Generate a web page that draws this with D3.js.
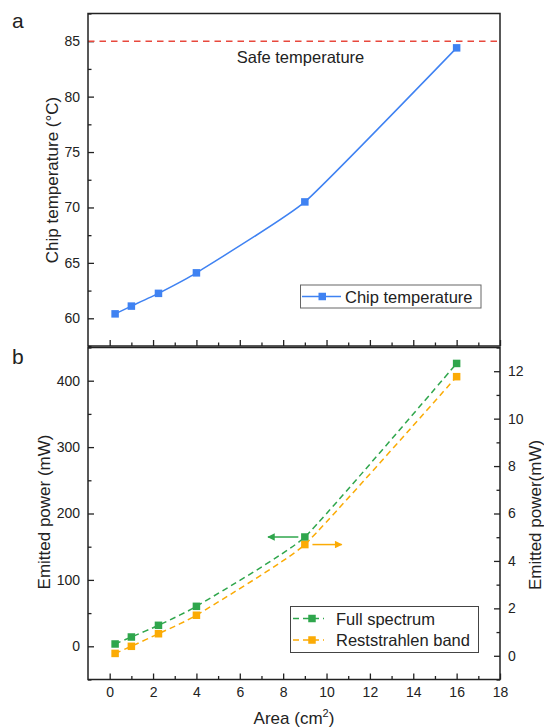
<!DOCTYPE html>
<html>
<head>
<meta charset="utf-8">
<script src="https://cdn.jsdelivr.net/npm/d3@7"></script>
<style>
body { margin: 0; background: #fff; }
svg { display: block; font-family: "Liberation Sans", Arial, sans-serif; }
</style>
</head>
<body>
<script>
// data
var area = [0.25, 1, 2.25, 4, 9, 16];
var chipTemp = [60.4, 61.1, 62.25, 64.1, 70.5, 84.4];
var fullSpectrum = [3.5, 14, 31.6, 60.2, 164.6, 426];
var reststrahlen = [0.1, 0.4, 0.93, 1.71, 4.69, 11.77];
var safeTemp = 85;

var xMajor = [0, 2, 4, 6, 8, 10, 12, 14, 16, 18];
var xMinor = [1, 3, 5, 7, 9, 11, 13, 15, 17];
var tempMajor = [60, 65, 70, 75, 80, 85];
var tempMinor = [57.5, 62.5, 67.5, 72.5, 77.5, 82.5, 87.5];
var powerMajor = [0, 100, 200, 300, 400];
var powerMinor = [-50, 50, 150, 250, 350, 450];
var rightMajor = [0, 2, 4, 6, 8, 10, 12];
var rightMinor = [-1, 1, 3, 5, 7, 9, 11, 13];

// arrows pointing from the 9 cm2 points towards their axis
var arrowFull = { index: 4, to: 7.3, from: 8.7 };
var arrowRest = { index: 4, from: 9.35, to: 10.7 };

var W = 544, H = 728;
var blue = '#3f82f2', green = '#2fa64c', orange = '#fbab05', red = '#e8483d', ink = '#222';
var smooth = d3.curveCardinal.tension(0.6);

var svg = d3.select('body').append('svg')
    .attr('width', W)
    .attr('height', H);

var defs = svg.append('defs');
[['ah-green', green], ['ah-orange', orange]].forEach(function(d) {
    defs.append('marker')
        .attr('id', d[0])
        .attr('viewBox', '0 0 10 10')
        .attr('refX', 9).attr('refY', 5)
        .attr('markerWidth', 6).attr('markerHeight', 5)
        .attr('markerUnits', 'strokeWidth')
        .attr('orient', 'auto')
        .append('path')
        .attr('d', 'M0,0L10,5L0,10z')
        .attr('fill', d[1]);
});

var x = d3.scaleLinear().domain([-1, 18]).range([88, 500]);
var yTemp = d3.scaleLinear().domain([57.5, 87.5]).range([346, 13.5]);
var yPow = d3.scaleLinear().domain([-50, 450]).range([679.5, 347.5]);
var yRight = d3.scaleLinear().domain([-1, 13]).range([679.5, 347.5]);

function styleAxis(g) {
    g.select('.domain').remove();
    g.selectAll('line').attr('stroke', ink).attr('stroke-width', 1.3);
    g.selectAll('text').attr('fill', ink).attr('font-size', 14).attr('font-family', null);
}

function addAxis(axisFn, scale, major, minor, pos, labels) {
    var a = svg.append('g').attr('transform', pos)
        .call(axisFn(scale).tickValues(major).tickSize(-6).tickPadding(8)
            .tickFormat(labels ? d3.format('d') : ''))
        .call(styleAxis);
    svg.append('g').attr('transform', pos)
        .call(axisFn(scale).tickValues(minor).tickSize(-3.5).tickFormat(''))
        .call(styleAxis);
    return a;
}

// ---- panel a ----
addAxis(d3.axisLeft, yTemp, tempMajor, tempMinor, 'translate(88,0)', true);
addAxis(d3.axisBottom, x, xMajor, xMinor, 'translate(0,346)', false);

svg.append('line')
    .attr('x1', x.range()[0]).attr('x2', x.range()[1])
    .attr('y1', yTemp(safeTemp)).attr('y2', yTemp(safeTemp))
    .attr('stroke', red).attr('stroke-width', 1.5)
    .attr('stroke-dasharray', '6.5,5');

svg.append('text')
    .attr('x', 300.5).attr('y', 62.5)
    .attr('text-anchor', 'middle')
    .attr('font-size', 16.5).attr('fill', ink)
    .text('Safe temperature');

var tempLine = d3.line()
    .x(function(d, i) { return x(area[i]); })
    .y(function(d) { return yTemp(d); })
    .curve(smooth);

svg.append('path')
    .datum(chipTemp)
    .attr('d', tempLine)
    .attr('fill', 'none')
    .attr('stroke', blue)
    .attr('stroke-width', 1.5);

svg.selectAll('.m-temp')
    .data(chipTemp)
    .enter().append('rect')
    .attr('class', 'm-temp')
    .attr('x', function(d, i) { return x(area[i]) - 3.75; })
    .attr('y', function(d) { return yTemp(d) - 3.75; })
    .attr('width', 7.5).attr('height', 7.5)
    .attr('fill', blue);

svg.append('rect')
    .attr('x', 88).attr('y', 13.5)
    .attr('width', 412).attr('height', 332.5)
    .attr('fill', 'none').attr('stroke', ink).attr('stroke-width', 1.5);

var legA = svg.append('g');
legA.append('rect')
    .attr('x', 300.5).attr('y', 285).attr('width', 180.5).attr('height', 23)
    .attr('fill', '#fff').attr('stroke', '#666').attr('stroke-width', 1);
legA.append('line')
    .attr('x1', 302).attr('x2', 341).attr('y1', 296.5).attr('y2', 296.5)
    .attr('stroke', blue).attr('stroke-width', 1.5);
legA.append('rect')
    .attr('x', 318.5).attr('y', 292.75).attr('width', 7.5).attr('height', 7.5)
    .attr('fill', blue);
legA.append('text')
    .attr('x', 345).attr('y', 302.5)
    .attr('font-size', 16.5).attr('fill', ink)
    .text('Chip temperature');

svg.append('text')
    .attr('transform', 'translate(58,180) rotate(-90)')
    .attr('text-anchor', 'middle')
    .attr('font-size', 17).attr('fill', ink)
    .text('Chip temperature (\u00b0C)');

svg.append('text')
    .attr('x', 12).attr('y', 28)
    .attr('font-size', 21).attr('fill', ink)
    .text('a');

// ---- panel b ----
addAxis(d3.axisLeft, yPow, powerMajor, powerMinor, 'translate(88,0)', true);
addAxis(d3.axisRight, yRight, rightMajor, rightMinor, 'translate(500,0)', true);
addAxis(d3.axisBottom, x, xMajor, xMinor, 'translate(0,679.5)', true);

var series = [
    { values: fullSpectrum, y: yPow, color: green, name: 'Full spectrum' },
    { values: reststrahlen, y: yRight, color: orange, name: 'Reststrahlen band' }
];

series.forEach(function(s) {
    var line = d3.line()
        .x(function(d, i) { return x(area[i]); })
        .y(function(d) { return s.y(d); })
        .curve(smooth);
    svg.append('path')
        .datum(s.values)
        .attr('d', line)
        .attr('fill', 'none')
        .attr('stroke', s.color)
        .attr('stroke-width', 1.5)
        .attr('stroke-dasharray', '6,4');
    svg.append('g').selectAll('rect')
        .data(s.values)
        .enter().append('rect')
        .attr('x', function(d, i) { return x(area[i]) - 3.75; })
        .attr('y', function(d) { return s.y(d) - 3.75; })
        .attr('width', 7.5).attr('height', 7.5)
        .attr('fill', s.color);
});

[[arrowFull, fullSpectrum, yPow, green, 'ah-green'],
 [arrowRest, reststrahlen, yRight, orange, 'ah-orange']].forEach(function(a) {
    var yy = a[2](a[1][a[0].index]);
    svg.append('line')
        .attr('x1', x(a[0].from)).attr('x2', x(a[0].to))
        .attr('y1', yy).attr('y2', yy)
        .attr('stroke', a[3]).attr('stroke-width', 1.5)
        .attr('marker-end', 'url(#' + a[4] + ')');
});

svg.append('rect')
    .attr('x', 88).attr('y', 347.5)
    .attr('width', 412).attr('height', 332)
    .attr('fill', 'none').attr('stroke', ink).attr('stroke-width', 1.5);

var legB = svg.append('g');
legB.append('rect')
    .attr('x', 290.5).attr('y', 606.5).attr('width', 188).attr('height', 46)
    .attr('fill', '#fff').attr('stroke', '#444').attr('stroke-width', 1);
series.forEach(function(s, i) {
    var cy = 618.5 + i * 21.5;
    legB.append('line')
        .attr('x1', 293).attr('x2', 324).attr('y1', cy).attr('y2', cy)
        .attr('stroke', s.color).attr('stroke-width', 1.5)
        .attr('stroke-dasharray', '6,4');
    legB.append('rect')
        .attr('x', 308.25).attr('y', cy - 3.75).attr('width', 7.5).attr('height', 7.5)
        .attr('fill', s.color);
    legB.append('text')
        .attr('x', 336).attr('y', cy + 6)
        .attr('font-size', 16.5).attr('fill', ink)
        .text(s.name);
});

svg.append('text')
    .attr('transform', 'translate(50,512) rotate(-90)')
    .attr('text-anchor', 'middle')
    .attr('font-size', 17).attr('fill', ink)
    .text('Emitted power (mW)');

svg.append('text')
    .attr('transform', 'translate(541,515) rotate(-90)')
    .attr('text-anchor', 'middle')
    .attr('font-size', 17).attr('fill', ink)
    .text('Emitted power(mW)');

var xt = svg.append('text')
    .attr('x', 294).attr('y', 723.5)
    .attr('text-anchor', 'middle')
    .attr('font-size', 17).attr('fill', ink);
xt.append('tspan').text('Area (cm');
xt.append('tspan').attr('font-size', 11).attr('dy', -7).text('2');
xt.append('tspan').attr('dy', 7).text(')');

svg.append('text')
    .attr('x', 12).attr('y', 364)
    .attr('font-size', 21).attr('fill', ink)
    .text('b');
</script>
</body>
</html>
